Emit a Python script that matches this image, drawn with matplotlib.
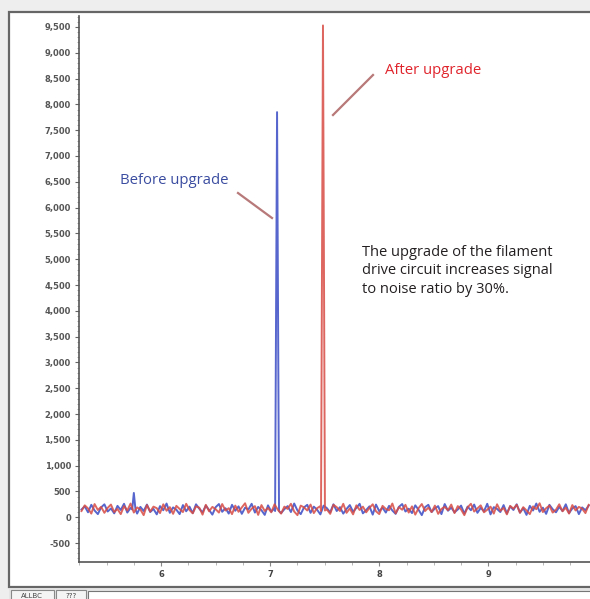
import numpy as np
import matplotlib
matplotlib.use("Agg")
import matplotlib.pyplot as plt
from matplotlib.patches import Rectangle
from matplotlib.lines import Line2D

# ---------------- data ----------------
noise_start = 5.27
noise_step = 0.03

blue_noise = [
    150, 210, 95, 240, 130, 60, 190, 250, 110, 170, 75, 220,
    140, 260, 90, 180, 230, 70, 200, 120, 245, 100, 160, 55,
    215, 135, 265, 85, 190, 145, 60, 235, 115, 205, 80, 250,
    165, 95, 225, 140, 50, 195, 255, 105, 175, 70, 240, 125,
    210, 65, 185, 150, 260, 90, 200, 135, 45, 230, 110, 170,
    250, 80, 155, 215, 100, 265, 130, 60, 190, 240, 85, 205,
    145, 55, 225, 175, 95, 250, 120, 195, 70, 160, 235, 105,
    180, 260, 75, 140, 210, 50, 245, 115, 185, 90, 220, 130,
    65, 200, 255, 110, 165, 80, 230, 145, 40, 195, 240, 100,
    170, 215, 60, 255, 125, 185, 95, 150, 225, 70, 205, 135,
    245, 85, 180, 115, 260, 55, 195, 160, 100, 235, 75, 210,
    140, 250, 90, 175, 45, 220, 130, 265, 105, 185, 65, 240,
    155, 95, 200, 120, 250, 80, 170, 215, 60, 190, 135, 225,
]

red_noise = [
    120, 230, 170, 70, 255, 140, 200, 85, 180, 245, 100, 160,
    60, 215, 130, 265, 90, 190, 150, 40, 235, 110, 205, 175,
    80, 250, 125, 195, 65, 220, 160, 100, 260, 140, 75, 210,
    185, 50, 240, 115, 200, 155, 90, 255, 130, 175, 60, 225,
    105, 190, 270, 85, 165, 215, 45, 235, 120, 180, 95, 250,
    145, 70, 205, 160, 260, 110, 40, 225, 190, 130, 245, 80,
    175, 215, 100, 150, 65, 240, 195, 120, 260, 85, 170, 55,
    230, 140, 205, 95, 180, 250, 115, 60, 220, 160, 135, 265,
    75, 195, 145, 240, 90, 210, 50, 175, 255, 120, 185, 100,
    225, 65, 160, 200, 135, 245, 80, 215, 150, 40, 190, 260,
    110, 170, 230, 95, 145, 205, 70, 250, 125, 180, 55, 220,
    165, 240, 85, 195, 130, 60, 210, 155, 270, 100, 175, 225,
    90, 145, 250, 115, 185, 70, 235, 130, 200, 165, 80, 240,
]

# small spike on the "before" trace and the two main peaks
spike_x = [5.735, 5.75, 5.765]
spike_y = [150, 470, 150]

blue_peak_x = [7.045, 7.063, 7.081]
blue_peak_y = [120, 7850, 120]

red_peak_x = [7.466, 7.484, 7.502]
red_peak_y = [120, 9530, 130]

y_ticks = [-500, 0, 500, 1000, 1500, 2000, 2500, 3000, 3500, 4000, 4500,
           5000, 5500, 6000, 6500, 7000, 7500, 8000, 8500, 9000, 9500]
x_ticks = [6, 7, 8, 9]

label_before = "Before upgrade"
label_after = "After upgrade"
note = "The upgrade of the filament\ndrive circuit increases signal\nto noise ratio by 30%."


def merge(noise, peaks):
    x = noise_start + noise_step * np.arange(len(noise))
    y = np.array(noise, dtype=float)
    for px, py in peaks:
        keep = (x < px[0]) | (x > px[-1])
        x = np.concatenate([x[keep], px])
        y = np.concatenate([y[keep], py])
        order = np.argsort(x)
        x, y = x[order], y[order]
    return x, y


bx, by = merge(blue_noise, [(np.array(spike_x), np.array(spike_y)),
                            (np.array(blue_peak_x), np.array(blue_peak_y))])
rx, ry = merge(red_noise, [(np.array(red_peak_x), np.array(red_peak_y))])

# ---------------- figure ----------------
W, H = 590, 599
fig = plt.figure(figsize=(W / 100, H / 100), dpi=100, facecolor="#eeeeee")


def fx(px):
    return px / W


def fy(py):
    return 1 - py / H


# window panel (behind the axes)
fig.patches.append(Rectangle((fx(9), fy(587)), 1.0, (587 - 12) / H,
                             transform=fig.transFigure, facecolor="white",
                             edgecolor="#666666", lw=1.6, zorder=-3))
# bottom tab bar
fig.patches.append(Rectangle((fx(9), 0), 1.0, fy(589), transform=fig.transFigure,
                             facecolor="#e4e4e4", edgecolor="none", zorder=-2))
fig.patches.append(Rectangle((fx(11), fy(599) - 0.01), (54 - 11) / W, (599 - 590) / H + 0.01,
                             transform=fig.transFigure, facecolor="#f4f4f4",
                             edgecolor="#888888", lw=0.8, zorder=-1))
fig.patches.append(Rectangle((fx(56), fy(599) - 0.01), (86 - 56) / W, (599 - 590) / H + 0.01,
                             transform=fig.transFigure, facecolor="#f4f4f4",
                             edgecolor="#888888", lw=0.8, zorder=-1))
fig.patches.append(Rectangle((fx(88), fy(599) - 0.01), 1.0, (599 - 591) / H + 0.01,
                             transform=fig.transFigure, facecolor="white",
                             edgecolor="#777777", lw=0.8, zorder=-1))
fig.text(fx(32), fy(596), "ALLBC", fontsize=5, ha="center", va="center", color="#444444")
fig.text(fx(71), fy(596), "???", fontsize=5, ha="center", va="center", color="#444444")

# axes
ax = fig.add_axes([fx(79.3), fy(562), 1 - fx(79.3), (562 - 16) / H])
ax.set_facecolor("none")
ax.set_zorder(1)

ax.plot(bx, by, color="#4455c8", lw=1.4, alpha=0.9, zorder=3)
ax.plot(rx, ry, color="#d84c44", lw=1.4, alpha=0.85, zorder=4)

ax.set_xlim(5.262, 9.932)
ax.set_ylim(-868, 9713)

ax.set_yticks(y_ticks)
ax.set_yticklabels([f"{v:,}" for v in y_ticks])
ax.set_yticks(np.arange(-800, 9701, 100), minor=True)
ax.set_xticks(x_ticks)
ax.set_xticklabels([str(v) for v in x_ticks])
ax.set_xticks(np.arange(5.25, 9.95, 0.25), minor=True)

for s in ["top", "right"]:
    ax.spines[s].set_visible(False)
for s in ["left", "bottom"]:
    ax.spines[s].set_color("#555555")
    ax.spines[s].set_linewidth(1.2)

ax.tick_params(axis="y", which="major", direction="out", length=3, width=0.8,
               colors="#666666", labelsize=6, labelcolor="#555555", pad=3)
ax.tick_params(axis="y", which="minor", direction="out", length=1.5, width=0.5,
               colors="#888888")
ax.tick_params(axis="x", which="major", direction="out", length=3, width=0.8,
               colors="#888888", labelsize=6, labelcolor="#444444", pad=3)
ax.tick_params(axis="x", which="minor", direction="out", length=2, width=0.6,
               colors="#aaaaaa")
for lab in ax.get_xticklabels() + ax.get_yticklabels():
    lab.set_fontweight("bold")

# annotations (figure pixel coordinates)
fam = ["Open Sans", "DejaVu Sans"]
fig.text(fx(120), fy(180), label_before, fontsize=10.7, color="#3a4ca0",
         ha="left", va="center", family=fam, zorder=5)
fig.text(fx(385), fy(71), label_after, fontsize=10.7, color="#e0242c",
         ha="left", va="center", family=fam, zorder=5)
fig.text(fx(362), fy(271), note, fontsize=10.5, color="#231f20",
         ha="left", va="center", family=fam, linespacing=1.3, zorder=5)

fig.lines.append(Line2D([fx(238), fx(272)], [fy(193), fy(218)],
                        transform=fig.transFigure, color="#b06a6a", lw=1.6, alpha=0.9, zorder=5))
fig.lines.append(Line2D([fx(373), fx(333)], [fy(75), fy(115)],
                        transform=fig.transFigure, color="#b06a6a", lw=1.6, alpha=0.9, zorder=5))

fig.savefig("out.png", dpi=100, facecolor=fig.get_facecolor())
